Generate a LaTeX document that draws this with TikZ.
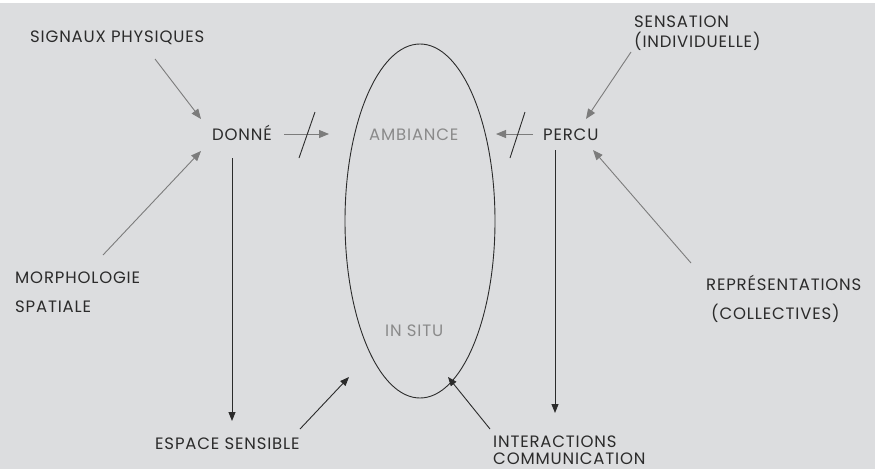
\documentclass[tikz,border=0pt]{standalone}
\usepackage{fontspec}
\setmainfont{Poppins}[LetterSpace=5]
\usetikzlibrary{arrows.meta,shapes.geometric}
\definecolor{bg}{HTML}{DCDDDF}
\definecolor{ink}{HTML}{2B2B2B}
\definecolor{arr}{HTML}{7C7C7C}
\definecolor{soft}{HTML}{8A8A8A}
\begin{document}
\begin{tikzpicture}[x=1pt,y=-1pt,
  lbl/.style={anchor=base west,inner sep=0pt,text=ink,font=\fontsize{16.5}{18}\selectfont},
  softlbl/.style={lbl,text=soft},
  graylink/.style={draw=arr,line width=0.9pt,-{Triangle[length=10pt,width=8pt]}},
  darklink/.style={draw=ink,line width=0.9pt,-{Triangle[length=9pt,width=7pt]}},
  slashmark/.style={draw=ink,line width=0.9pt}]
\fill[white] (0,0) rectangle (875,469);
\fill[bg] (0,3) rectangle (875,469);
\useasboundingbox (0,0) rectangle (875,469);

% labels
\node[lbl] (sig) at (30,42) {SIGNAUX PHYSIQUES};
\node[lbl] (don) at (212,140) {DONNÉ};
\node[softlbl] (amb) at (369,140) {AMBIANCE};
\node[lbl] (per) at (543,140) {PERCU};
\node[lbl] (sen1) at (634,27.5) {SENSATION};
\node[lbl] (sen2) at (634,47.5) {(INDIVIDUELLE)};
\node[lbl] (mor1) at (15,283) {MORPHOLOGIE};
\node[lbl] (mor2) at (15,312) {SPATIALE};
\node[lbl] (rep1) at (706,290) {REPRÉSENTATIONS};
\node[lbl] (rep2) at (711,319) {(COLLECTIVES)};
\node[lbl] (esp) at (155,449) {ESPACE SENSIBLE};
\node[lbl] (int1) at (493,447) {INTERACTIONS};
\node[lbl] (int2) at (493,464) {COMMUNICATION};
\node[softlbl] (ins) at (385,336) {IN SITU};

% ellipse
\node[draw=ink,line width=0.9pt,ellipse,minimum width=150pt,minimum height=354pt,inner sep=0pt] (ell) at (420,221) {};

% connector ends
\coordinate (sigS) at (155,59);   \coordinate (donA) at (201,119);
\coordinate (morS) at (103,255);  \coordinate (donB) at (201,151);
\coordinate (donR) at (284,134);  \coordinate (ambL) at (329,134);
\coordinate (perL) at (533,134);  \coordinate (ambR) at (496,134);
\coordinate (senS) at (631,52);   \coordinate (perA) at (586,119);
\coordinate (repS) at (691,263);  \coordinate (perB) at (593,150);
\coordinate (donD) at (232,158);  \coordinate (espT) at (232,421);
\coordinate (perD) at (555,150);  \coordinate (intT) at (555,413);
\coordinate (espS) at (300,429);  \coordinate (ellL) at (349,377);
\coordinate (intS) at (490,429);  \coordinate (ellR) at (448,377);
\coordinate (s1a) at (299,158);   \coordinate (s1b) at (315,112);
\coordinate (s2a) at (510,158);   \coordinate (s2b) at (525,112);

% connectors
\draw[graylink] (sigS) -- (donA);
\draw[graylink] (morS) -- (donB);
\draw[graylink] (donR) -- (ambL);
\draw[graylink] (perL) -- (ambR);
\draw[graylink] (senS) -- (perA);
\draw[graylink] (repS) -- (perB);
\draw[slashmark] (s1a) -- (s1b);
\draw[slashmark] (s2a) -- (s2b);
\draw[darklink] (donD) -- (espT);
\draw[darklink] (perD) -- (intT);
\draw[darklink] (espS) -- (ellL);
\draw[darklink] (intS) -- (ellR);
\end{tikzpicture}
\end{document}
